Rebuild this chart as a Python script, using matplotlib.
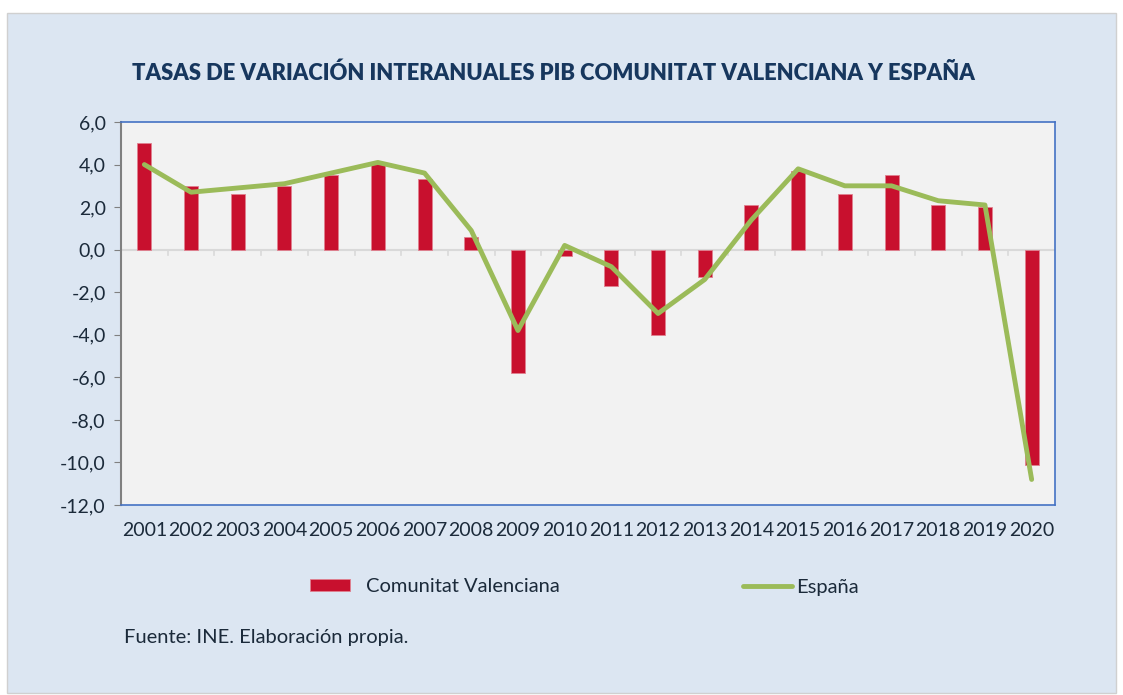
"""Tasas de variacion interanuales del PIB: Comunitat Valenciana y Espana."""

import matplotlib
import numpy as np

matplotlib.use("Agg")
import matplotlib.pyplot as plt
from matplotlib.patches import Rectangle

years = [str(y) for y in range(2001, 2021)]
cv_values = [5.0, 3.0, 2.6, 3.0, 3.5, 4.1, 3.3, 0.6, -5.8, -0.3,
             -1.7, -4.0, -1.3, 2.1, 3.7, 2.6, 3.5, 2.1, 2.0, -10.1]
es_values = [4.0, 2.7, 2.9, 3.1, 3.6, 4.1, 3.6, 0.9, -3.8, 0.2,
             -0.8, -3.0, -1.4, 1.4, 3.8, 3.0, 3.0, 2.3, 2.1, -10.8]
y_ticks = [6, 4, 2, 0, -2, -4, -6, -8, -10, -12]

BG = "#DCE6F2"
PLOT_BG = "#F2F2F2"
RED = "#C8102E"
GREEN = "#9BBB59"
TEXT = "#1B2A3A"
TITLE = "#17375E"
FS = 14
LEG_FS = 14.5

plt.rcParams["font.family"] = ["Lato", "DejaVu Sans"]

fig = plt.figure(figsize=(11.23, 6.95), dpi=100)
fig.patch.set_facecolor("white")
fig.patches.append(Rectangle((7 / 1123, 2 / 695), 1109 / 1123, 680 / 695,
                             transform=fig.transFigure, facecolor=BG,
                             edgecolor="#D0D0D0", linewidth=1, zorder=-10))

ax = fig.add_axes([121 / 1123, 1 - 505 / 695, 934 / 1123, 383 / 695])
ax.set_facecolor(PLOT_BG)

x = np.arange(len(years))
bars = ax.bar(x, cv_values, width=0.3, color=RED, edgecolor="#E08090",
              linewidth=0.6, zorder=3, label="Comunitat Valenciana")
line, = ax.plot(x, es_values, color=GREEN, linewidth=3.5, zorder=4,
                solid_capstyle="round", solid_joinstyle="round", label="España")

ax.set_xlim(-0.5, len(years) - 0.5)
ax.set_ylim(-12, 6)
ax.set_yticks(y_ticks)
ax.set_yticklabels([f"{v:.1f}".replace(".", ",") for v in y_ticks],
                   fontsize=FS, color=TEXT)

# zero line with category separators
ax.axhline(0, color="#D9D9D9", linewidth=1.5, zorder=2)
for b in np.arange(0.5, len(years) - 0.5):
    ax.plot([b, b], [0, -0.25], color="#D9D9D9", linewidth=1.2, zorder=2)

ax.set_xticks(x)
ax.set_xticklabels(years, fontsize=FS, color=TEXT)
ax.tick_params(axis="x", length=0, pad=12)
ax.tick_params(axis="y", direction="out", length=5, color="#808080", pad=6)

for side in ("top", "right", "bottom"):
    ax.spines[side].set_color("#4472C4")
    ax.spines[side].set_linewidth(1.2)
ax.spines["left"].set_color("#808080")
ax.spines["left"].set_linewidth(1.5)

fig.text(553 / 1123, 1 - 73 / 695,
         "TASAS DE VARIACIÓN INTERANUALES PIB COMUNITAT VALENCIANA Y ESPAÑA",
         ha="center", va="center", fontsize=15.8, fontweight="heavy", color=TITLE)

leg1 = fig.legend(handles=[bars], loc="center left",
                  bbox_to_anchor=(310 / 1123, 1 - 587 / 695), frameon=False,
                  fontsize=LEG_FS, handlelength=2.0, handleheight=0.55,
                  handletextpad=0.8, borderpad=0, borderaxespad=0,
                  labelcolor=TEXT)
leg2 = fig.legend(handles=[line], loc="center left",
                  bbox_to_anchor=(743 / 1123, 1 - 587 / 695), frameon=False,
                  fontsize=LEG_FS, handlelength=2.45, handletextpad=0.2,
                  borderpad=0, borderaxespad=0, labelcolor=TEXT)

fig.text(124 / 1123, 1 - 638 / 695, "Fuente: INE. Elaboración propia.",
         ha="left", va="center", fontsize=LEG_FS, color=TEXT)

fig.savefig("out.png", dpi=100, facecolor=fig.get_facecolor())
